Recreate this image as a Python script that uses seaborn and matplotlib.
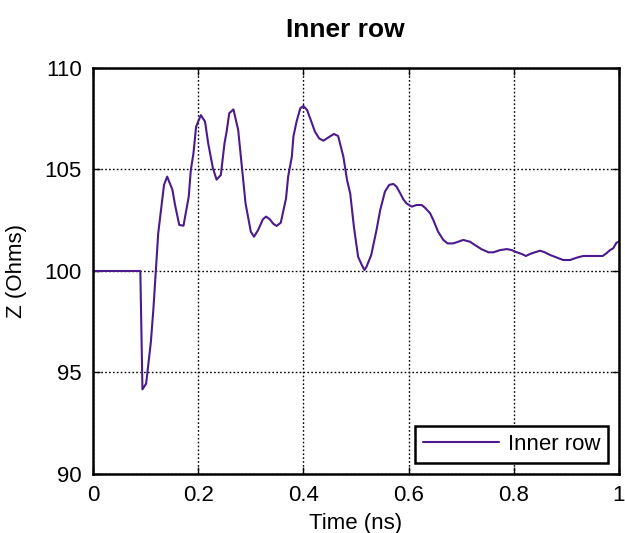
import matplotlib
matplotlib.use("Agg")
import matplotlib.pyplot as plt
import seaborn as sns
import pandas as pd

# Impedance profile (time in ns, Z in ohms)
time_ns = [0.000, 0.090, 0.094, 0.101, 0.110, 0.115, 0.124, 0.135, 0.141, 0.151,
           0.156, 0.164, 0.172, 0.182, 0.186, 0.191, 0.196, 0.205, 0.213, 0.219,
           0.228, 0.235, 0.243, 0.250, 0.254, 0.259, 0.267, 0.276, 0.283, 0.290,
           0.300, 0.306, 0.314, 0.323, 0.329, 0.336, 0.343, 0.349, 0.357, 0.367,
           0.371, 0.378, 0.381, 0.387, 0.394, 0.400, 0.407, 0.414, 0.422, 0.430,
           0.438, 0.447, 0.458, 0.466, 0.476, 0.483, 0.489, 0.496, 0.504, 0.511,
           0.516, 0.520, 0.529, 0.535, 0.539, 0.546, 0.555, 0.563, 0.571, 0.577,
           0.584, 0.590, 0.596, 0.606, 0.615, 0.625, 0.631, 0.641, 0.647, 0.656,
           0.666, 0.674, 0.685, 0.694, 0.704, 0.717, 0.726, 0.739, 0.752, 0.761,
           0.774, 0.787, 0.796, 0.806, 0.815, 0.823, 0.831, 0.840, 0.850, 0.859,
           0.869, 0.881, 0.894, 0.907, 0.920, 0.932, 0.945, 0.958, 0.969, 0.976,
           0.983, 0.989, 0.995, 1.000]
z_ohms = [100.0, 100.0, 94.17, 94.45, 96.5, 98.2, 101.86, 104.24, 104.65, 104.0,
          103.25, 102.27, 102.23, 103.66, 104.98, 105.8, 107.11, 107.68, 107.36, 106.29,
          105.06, 104.5, 104.73, 106.29, 106.86, 107.77, 107.96, 106.95, 105.14, 103.33,
          101.94, 101.69, 102.02, 102.55, 102.68, 102.55, 102.32, 102.22, 102.38, 103.58,
          104.65, 105.63, 106.62, 107.36, 108.01, 108.13, 107.93, 107.44, 106.86, 106.53,
          106.42, 106.57, 106.75, 106.65, 105.63, 104.48, 103.82, 102.18, 100.7, 100.3,
          100.05, 100.21, 100.79, 101.53, 102.02, 103.0, 103.91, 104.24, 104.29, 104.16,
          103.83, 103.53, 103.33, 103.17, 103.25, 103.25, 103.12, 102.84, 102.51, 101.94,
          101.53, 101.36, 101.36, 101.44, 101.53, 101.44, 101.28, 101.07, 100.92, 100.92,
          101.03, 101.08, 101.03, 100.92, 100.84, 100.74, 100.84, 100.92, 101.0, 100.92,
          100.79, 100.67, 100.54, 100.54, 100.66, 100.74, 100.74, 100.74, 100.74, 100.87,
          101.03, 101.12, 101.39, 101.45]

x_ticks = [0, 0.2, 0.4, 0.6, 0.8, 1]
x_labels = ["0", "0.2", "0.4", "0.6", "0.8", "1"]
y_ticks = [90, 95, 100, 105, 110]

df = pd.DataFrame({"Time (ns)": time_ns, "Z (Ohms)": z_ohms})

sns.set_theme(style="white")
plt.rcParams["font.family"] = ["Liberation Sans", "DejaVu Sans"]
plt.rcParams["text.color"] = "black"
plt.rcParams["axes.labelcolor"] = "black"

fig = plt.figure(figsize=(6.25, 5.33), dpi=100)
ax = fig.add_axes([93 / 625, 1 - 474 / 533, 526 / 625, 406 / 533])

sns.lineplot(data=df, x="Time (ns)", y="Z (Ohms)", ax=ax, color="#4b1a8c",
             linewidth=1.5, label="Inner row", estimator=None)

ax.set_xlim(0, 1)
ax.set_ylim(90, 110)
ax.set_xticks(x_ticks)
ax.set_xticklabels(x_labels)
ax.set_yticks(y_ticks)
ax.grid(True, color="black", linestyle=(0, (1.2, 1.6)), linewidth=1.0)
ax.tick_params(direction="in", length=5, width=1, labelsize=16, pad=8,
               top=True, right=True, bottom=True, left=True,
               colors="black", labelcolor="black")
for s in ax.spines.values():
    s.set_color("black")
    s.set_linewidth(1.8)

ax.set_xlabel("Time (ns)", fontsize=16, color="black")
ax.set_ylabel("Z (Ohms)", fontsize=16, color="black")
ax.xaxis.set_label_coords(0.5, -0.095)
ax.yaxis.set_label_coords(-0.125, 0.5)
ax.set_title("Inner row", fontsize=19, fontweight="bold", x=0.479, pad=22,
             color="black")

leg = ax.legend(loc="lower right", fontsize=16, frameon=True, fancybox=False,
                borderaxespad=0.5, handlelength=3.4, handletextpad=0.4,
                borderpad=0.35)
leg.get_frame().set_edgecolor("black")
leg.get_frame().set_linewidth(1.8)
leg.get_frame().set_alpha(1)
for t in leg.get_texts():
    t.set_color("black")

fig.savefig("out.png", dpi=100)
